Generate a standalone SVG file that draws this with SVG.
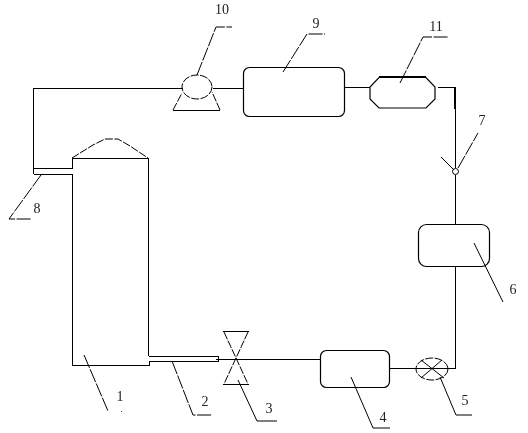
<svg xmlns="http://www.w3.org/2000/svg" width="528" height="433" viewBox="0 0 528 433">
<defs><filter id="g" x="0" y="0" width="1" height="1"><feOffset dx="0" dy="0"/></filter></defs>
<style>
.l{fill:none;stroke:#000;stroke-width:1;shape-rendering:crispEdges}
.s{fill:none;stroke:#000;stroke-width:1}
.b{fill:none;stroke:#000;stroke-width:2;shape-rendering:crispEdges}
.d{fill:none;stroke:#000;stroke-width:1;stroke-dasharray:14 1.500}
.e{fill:none;stroke:#000;stroke-width:1;stroke-dasharray:8 1.500}
.r{fill:none;stroke:#000;stroke-width:1.200}
text{font-family:"Liberation Serif",serif;font-size:14px;fill:#222;text-anchor:middle;filter:url(#g)}
</style>
<rect width="528" height="433" fill="#fff"/>
<g id="connectors">
<path class="l" d="M182.500 88.500H33.500V173.500"/>
<path class="l" d="M213 88.500H243"/>
<path class="l" d="M345 87.500H370"/>
<path class="l" d="M438 87.500H455.500V168"/>
<path class="b" d="M455 87V109"/>
<path class="l" d="M455.500 175V224"/>
<path class="l" d="M455.500 267V368.500H389"/>
<path class="l" d="M216 359.500H320"/>
</g>
<g id="node-1">
<path class="l" d="M33.500 168.500H72.500V158.500H148.500V356M33.500 174.500H72.500V365.500H149V361"/>
<path class="e" d="M72 158L93 145L105 139H118L130 146L148 158"/>
<path class="d" d="M84 355L108 411"/>
<circle cx="121.500" cy="411.500" r="0.500"/>
<text x="120" y="401">1</text>
</g>
<g id="node-2">
<path class="l" d="M149 356.500H218.500V361.500H149"/>
<path class="d" d="M172 361L193 415H212"/>
<text x="205" y="406">2</text>
</g>
<g id="node-3">
<path class="l" d="M223 331.500H249M223 384.500H249"/>
<path class="e" d="M224 332L248 384M248 332L224 384"/>
<path class="s" d="M238 380L257 421H277"/>
<text x="269" y="413">3</text>
</g>
<g id="node-4">
<rect class="r" x="320.500" y="350.500" width="69" height="37" rx="6"/>
<path class="s" d="M351 377L373 428H390"/>
<text x="383" y="422">4</text>
</g>
<g id="node-5">
<ellipse class="e" cx="432" cy="369" rx="16" ry="11"/>
<path class="s" d="M421 360L444 378M442 360L421 378"/>
<path class="s" d="M440 377L456 415H472"/>
<text x="465" y="405">5</text>
</g>
<g id="node-6">
<rect class="r" x="418.500" y="224.500" width="71" height="42" rx="8"/>
<path class="s" d="M474 243L503 302"/>
<text x="513" y="294">6</text>
</g>
<g id="node-7">
<circle class="s" cx="455.500" cy="171.500" r="3"/>
<path class="s" d="M441 157L454 170"/>
<path class="d" d="M458 168L478 133"/>
<text x="482" y="125">7</text>
</g>
<g id="node-8">
<path class="d" d="M41 175L9 219H31"/>
<text x="37" y="213">8</text>
</g>
<g id="node-9">
<rect class="r" x="243.500" y="67.500" width="101" height="49" rx="6"/>
<path class="d" d="M283 72L307 34H325"/>
<text x="316" y="28">9</text>
</g>
<g id="node-10">
<ellipse class="e" cx="197" cy="87" rx="15" ry="12"/>
<path class="l" d="M173 110.500H220"/>
<path class="e" d="M173 110L182 93M220 110L212 92"/>
<path class="d" d="M197 75L216 27H232"/>
<text x="222" y="14">10</text>
</g>
<g id="node-11">
<path class="r" d="M379 77.500H426L435 87V99L426 108H379L370 99V87Z"/>
<path class="b" d="M379 77H426"/>
<path class="d" d="M400 83L423 37H448"/>
<text x="436" y="31">11</text>
</g>
</svg>
